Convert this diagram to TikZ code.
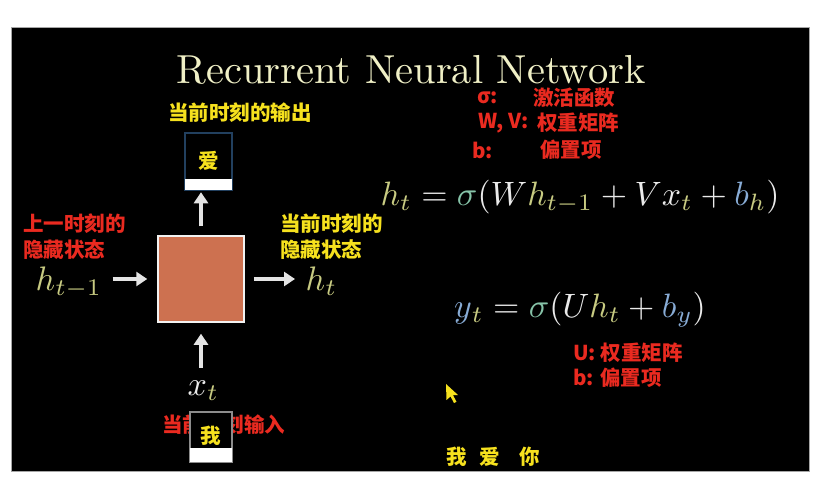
\documentclass[tikz,border=0pt]{standalone}
\usepackage{fontspec}
\usetikzlibrary{arrows.meta}
\newfontfamily\cjk{Noto Sans CJK SC}
\definecolor{hcol}{HTML}{C8CB82}
\definecolor{sigcol}{HTML}{86C3A8}
\definecolor{bcol}{HTML}{88ACD6}
\definecolor{wcol}{HTML}{EAEAEA}
\definecolor{titlecol}{HTML}{F0F0C6}
\definecolor{lblred}{HTML}{EA2A20}
\definecolor{lblyel}{HTML}{F6E11E}
\definecolor{cellcol}{HTML}{CD7150}
\definecolor{arrcol}{HTML}{E4E4E4}
\definecolor{glowblue}{HTML}{22405F}
\begin{document}
\begin{tikzpicture}[x=1pt,y=-1pt,
  redlbl/.style={anchor=west,inner sep=0,text=lblred,font=\cjk\bfseries\fontsize{20.5}{24}\selectfont},
  yellbl/.style={anchor=west,inner sep=0,text=lblyel,font=\cjk\bfseries\fontsize{20.5}{24}\selectfont},
  mathlbl/.style={anchor=base west,inner sep=0,scale=3.4,text=wcol},
  eqn/.style={anchor=base,inner sep=0,scale=3.38,text=wcol},
  arr/.style={draw=arrcol,line width=3.2pt,-{Triangle[length=11pt,width=14pt]}},
  wordbox/.style={rectangle,fill=black,inner sep=0,text=lblyel,font=\cjk\bfseries\fontsize{20.5}{24}\selectfont}]
\useasboundingbox (0,0) rectangle (826,501);
\fill[white] (0,0) rectangle (826,501);
\draw[gray!70,fill=black,line width=1pt] (11,27) rectangle (809,471);

% title
\node[anchor=base,inner sep=0,scale=4.05,text=titlecol] (title) at (411,83)
  {\fontsize{10}{12}\selectfont Recurrent Neural Network};

% red legend top
\node[redlbl] (sig) at (477,98) {σ:};
\node[redlbl] (sigtxt) at (533,98) {激活函数};
\node[redlbl] (wv) at (478,123) {W, V:};
\node[redlbl] (wvtxt) at (537,123) {权重矩阵};
\node[redlbl] (bb) at (472,150) {b:};
\node[redlbl] (bbtxt) at (540,150) {偏置项};

% equations
\node[eqn] (eqh) at (580,205)
  {$\textcolor{hcol}{h_t} = \textcolor{sigcol}{\sigma}(W\textcolor{hcol}{h_{t-1}} + V x_{\textcolor{hcol}{t}} + \textcolor{bcol}{b}_{\textcolor{hcol}{h}})$};
\node[eqn] (eqy) at (580,317)
  {$\textcolor{bcol}{y}_{\textcolor{hcol}{t}} = \textcolor{sigcol}{\sigma}(U\textcolor{hcol}{h_t} + \textcolor{bcol}{b_y})$};

\node[redlbl] (ulbl) at (573,353) {U: 权重矩阵};
\node[redlbl] (blbl) at (573,378) {b: 偏置项};

% cell
\node[rectangle,fill=cellcol,draw=white!90!gray,line width=1.5pt,minimum width=86pt,minimum height=86pt,inner sep=0] (cell) at (201,279) {};

% labels around the cell
\node[yellbl] (outlbl) at (168,113) {当前时刻的输出};
\node[redlbl] (prev1) at (23,224) {上一时刻的};
\node[redlbl] (prev2) at (23,250) {隐藏状态};
\node[yellbl] (cur1) at (280,224) {当前时刻的};
\node[yellbl] (cur2) at (280,250) {隐藏状态};

\node[mathlbl,text=hcol] (hprev) at (35,290) {$h_{t-1}$};
\node[mathlbl,text=hcol] (hcur) at (305,290) {$h_t$};
\node[mathlbl] (xt) at (187,395) {$x_{\textcolor{hcol}{t}}$};

% output box
\node[wordbox,draw=glowblue,line width=2.5pt,minimum width=47pt,minimum height=57pt] (outbox) at (208.5,161.5) {\raisebox{3pt}{爱}};
\fill[white] ([xshift=1.2pt,yshift=1.2pt]outbox.south west) rectangle ([xshift=-1.2pt,yshift=12pt]outbox.south east);

% input label and box
\node[redlbl] (inlbl) at (162,425) {当前时刻输入};
\node[wordbox,draw=white!55!black,line width=1.5pt,minimum width=42pt,minimum height=50pt] (inbox) at (211,437) {\raisebox{5pt}{我}};
\fill[white] ([xshift=1pt,yshift=1pt]inbox.south west) rectangle ([xshift=-1pt,yshift=15pt]inbox.south east);

% arrows
\draw[arr,shorten <=10pt,shorten >=10pt] (hprev.east |- cell.west) -- (cell.west);
\draw[arr,shorten <=9pt,shorten >=10pt] (cell.east) -- (hcur.west |- cell.east);
\draw[arr,shorten <=9pt,shorten >=1pt] (cell.north) -- (cell.north |- outbox.south);
\draw[arr,shorten <=12pt,shorten >=11pt] (cell.south |- xt.north) -- (cell.south);

% bottom words
\node[yellbl,anchor=center] (w1) at (457,457) {我};
\node[yellbl,anchor=center] (w2) at (490,457) {爱};
\node[yellbl,anchor=center] (w3) at (530,457) {你};

% mouse pointer
\fill[lblyel] (446,384) -- (446.5,400) -- (450.5,396.5) -- (454,403) -- (456.5,401.8) -- (453,395.2) -- (458,395) -- cycle;
\end{tikzpicture}
\end{document}
